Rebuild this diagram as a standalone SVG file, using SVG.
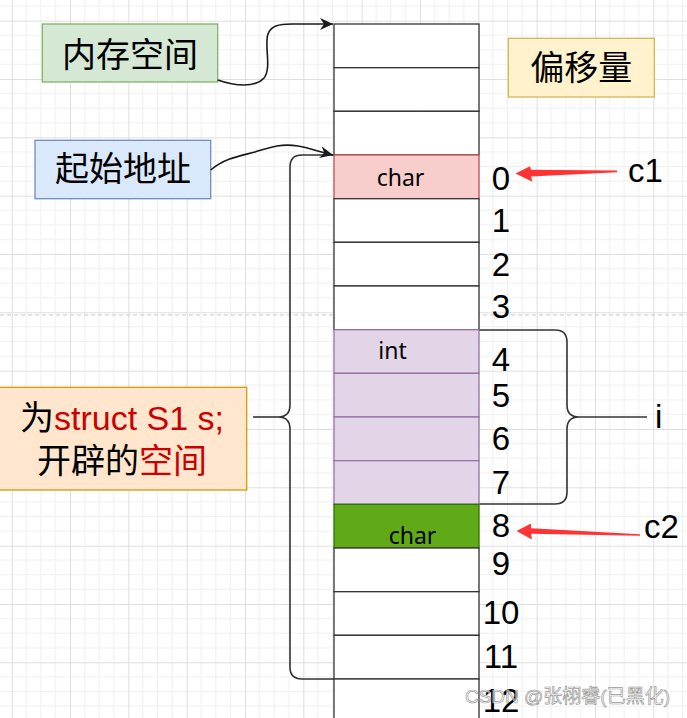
<svg xmlns="http://www.w3.org/2000/svg" width="687" height="718" viewBox="0 0 687 718">
<style>
.cell{fill:#ffffff;stroke:#333333;stroke-width:1.3}
.pink{fill:#f8cecc;stroke:#b85450;stroke-width:1.3}
.purple{fill:#e1d5e7;stroke:#9673a6;stroke-width:1.3}
.green{fill:#60a917;stroke:#2d7600;stroke-width:1.3}
.num{font-family:"Liberation Sans",Arial,sans-serif;font-size:33px;fill:#000000;text-anchor:middle}
.lbl{font-family:"Liberation Sans",Arial,sans-serif;font-size:33px;fill:#000000}
.cellt{font-family:"Noto Sans","Open Sans",sans-serif;font-size:23px;fill:#000000;text-anchor:middle}
.cjk{font-family:"Noto Sans CJK SC",sans-serif;font-size:34px;fill:#000000;text-anchor:middle}
.red{fill:#cc0000}
.lat{font-family:"Liberation Sans",Arial,sans-serif}
.conn{fill:none;stroke:#1a1a1a;stroke-width:1.6}
.brace{fill:none;stroke:#333333;stroke-width:1.6}
.arr{fill:#ff3333;stroke:none}
</style>
<defs>
<pattern id="grid" x="11.67" y="20.67" width="58.33" height="58.33" patternUnits="userSpaceOnUse">
<path d="M14.58,0V58.33M29.17,0V58.33M43.75,0V58.33M0,14.58H58.33M0,29.17H58.33M0,43.75H58.33" stroke="#f0f0f0" stroke-width="1" fill="none"/>
<path d="M0.5,0V58.33M0,0.5H58.33" stroke="#dedede" stroke-width="1" fill="none"/>
</pattern>
<marker id="ah" markerUnits="userSpaceOnUse" markerWidth="14" markerHeight="12" viewBox="0 0 14 12" refX="13" refY="6" orient="auto">
<path d="M0,0L13,6L0,12L4,6Z" fill="#1a1a1a"/>
</marker>
</defs>
<rect width="687" height="718" fill="#ffffff"/>
<rect width="687" height="718" fill="url(#grid)"/>
<line x1="0" y1="315" x2="687" y2="315" stroke="#c8c8c8" stroke-width="1.2" stroke-dasharray="4 3"/>

<g id="braces">
<path class="brace" d="M334,155L302,155Q290,155 290,167L290,405Q290,417 278,417Q290,417 290,429L290,667Q290,679 302,679L334,679"/>
<path class="brace" d="M253,417L278,417"/>
<path class="brace" d="M479,330L555,330Q567,330 567,342L567,405Q567,417 579,417Q567,417 567,429L567,492Q567,504 555,504L479,504"/>
<path class="brace" d="M579,417L647,417"/>
</g>

<g id="memory">
<rect class="cell" x="334" y="24" width="145" height="43.7"/>
<rect class="cell" x="334" y="67.7" width="145" height="43.6"/>
<rect class="cell" x="334" y="111.3" width="145" height="43.7"/>
<rect class="pink" x="334" y="155" width="145" height="43.7"/>
<rect class="cell" x="334" y="198.7" width="145" height="43.6"/>
<rect class="cell" x="334" y="242.3" width="145" height="43.7"/>
<rect class="cell" x="334" y="286" width="145" height="43.7"/>
<rect class="purple" x="334" y="329.7" width="145" height="43.6"/>
<rect class="purple" x="334" y="373.3" width="145" height="43.7"/>
<rect class="purple" x="334" y="417" width="145" height="43.7"/>
<rect class="purple" x="334" y="460.7" width="145" height="43.6"/>
<rect class="green" x="334" y="504.3" width="145" height="43.7"/>
<rect class="cell" x="334" y="548" width="145" height="43.7"/>
<rect class="cell" x="334" y="591.7" width="145" height="43.6"/>
<rect class="cell" x="334" y="635.3" width="145" height="43.7"/>
<rect class="cell" x="334" y="679" width="145" height="43.7"/>
<text class="cellt" x="400.5" y="186">char</text>
<text class="cellt" x="392.5" y="359">int</text>
<text class="cellt" x="412.5" y="543.5">char</text>
</g>

<g id="offsets">
<text class="num" x="501" y="190">0</text>
<text class="num" x="501" y="232">1</text>
<text class="num" x="501" y="276">2</text>
<text class="num" x="501" y="318">3</text>
<text class="num" x="501" y="371">4</text>
<text class="num" x="501" y="407">5</text>
<text class="num" x="501" y="450">6</text>
<text class="num" x="501" y="494">7</text>
<text class="num" x="501" y="537">8</text>
<text class="num" x="501" y="575">9</text>
<text class="num" x="501" y="624">10</text>
<text class="num" x="501" y="668">11</text>
<text class="num" x="501" y="712">12</text>
</g>

<g id="node-memspace">
<rect x="42.3" y="24" width="175.4" height="58" fill="#d5e8d4" stroke="#82b366" stroke-width="1.3"/>
<text class="cjk" x="130" y="67">内存空间</text>
</g>
<g id="node-start">
<rect x="35" y="140.3" width="175.7" height="58.4" fill="#dae8fc" stroke="#6c8ebf" stroke-width="1.3"/>
<text class="cjk" x="123" y="181">起始地址</text>
</g>
<g id="node-offset">
<rect x="508.3" y="38.3" width="146" height="58.7" fill="#fff2cc" stroke="#d6b656" stroke-width="1.3"/>
<text class="cjk" x="581.3" y="79.5">偏移量</text>
</g>
<g id="node-struct">
<rect x="-3" y="387.3" width="249.7" height="102.7" fill="#ffe6cc" stroke="#d79b00" stroke-width="1.3"/>
<text class="cjk" x="122" y="429.5">为<tspan class="lat red">struct S1 s;</tspan></text>
<text class="cjk" x="122" y="473">开辟的<tspan class="red">空间</tspan></text>
</g>
<g id="node-c1"><text class="lbl" x="628" y="181.7">c1</text></g>
<g id="node-c2"><text class="lbl" x="644" y="538.3">c2</text></g>
<g id="node-i"><text class="lbl" x="655" y="428.3">i</text></g>

<g id="connectors">
<path class="conn" d="M217.7,80C235,86 255,88 264,78C272,68 264,45 268,34C271,26 278,24 292,24L333,24" marker-end="url(#ah)"/>
<path class="conn" d="M210.7,170C225,158 240,156 255,152C268,148 280,143 298,146C310,148 320,152 333,155" marker-end="url(#ah)"/>
<path class="arr" d="M617,170.4L531,169.8L530,166.3L515.5,173.5L532.5,181.8L531,176.6L617,172.2Z"/>
<path class="arr" d="M640,534.2L531,528.2L531,523.5L516.5,531L532,539.5L531,533.8L640,535.8Z"/>
</g>

<text x="670" y="703" text-anchor="end" font-family="Liberation Sans,'Noto Sans CJK SC',sans-serif" font-size="19" fill="#ffffff" fill-opacity="0.6" stroke="#9a9a9a" stroke-width="0.7">CSDN @张栩睿(已黑化)</text>
</svg>
